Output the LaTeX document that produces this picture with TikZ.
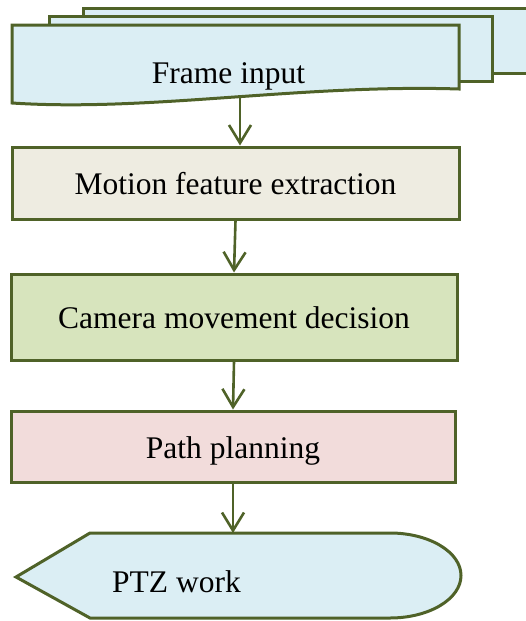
\documentclass[tikz,border=0pt]{standalone}
\usepackage{fontspec}
\setmainfont{Liberation Serif}
\usetikzlibrary{arrows.meta}
\definecolor{edgegreen}{HTML}{4F6228}
\definecolor{aqualight}{HTML}{DBEEF4}
\definecolor{tanlight}{HTML}{EEECE1}
\definecolor{olivelight}{HTML}{D7E4BD}
\definecolor{roselight}{HTML}{F2DCDB}
\begin{document}
\begin{tikzpicture}[x=1pt,y=-1pt,
  outline/.style={draw=edgegreen, line width=3pt, line join=miter},
  label/.style={font=\fontsize{31.5}{38}\selectfont, text height=23pt, text depth=0pt, inner sep=0pt},
  stepbox/.style={outline, label, rectangle},
  flow/.style={draw=edgegreen, line width=2.6pt, -{Straight Barb[length=18pt,width=22pt]}}]
\useasboundingbox (0,0) rectangle (526,621);
\clip (0,0) rectangle (526,621);

% stacked frames (multi-document symbol)
\filldraw[outline, fill=aqualight] (83,8) rectangle (560,73);
\filldraw[outline, fill=aqualight] (49,16) rectangle (492,81);
\filldraw[outline, fill=aqualight] (12,25) -- (459,25) -- (459,89)
  .. controls (300,84) and (150,112) .. (12,103) -- cycle;
\node[label] (frame) at (228.5,71.5) {Frame input};
\coordinate (framebottom) at (240,97.5);

% processing steps
\node[stepbox, fill=tanlight, minimum width=447pt, minimum height=72pt]
  (motion) at (235.5,183) {Motion feature extraction};
\node[stepbox, fill=olivelight, minimum width=446pt, minimum height=86pt]
  (camera) at (234,317) {Camera movement decision};
\node[stepbox, fill=roselight, minimum width=444pt, minimum height=71pt]
  (pathplan) at (233,446.5) {Path planning};

% display symbol for the PTZ output
\filldraw[outline, fill=aqualight] (16,577) -- (90,533) -- (390,533)
  arc[start angle=-90, end angle=90, x radius=71, y radius=42.5]
  -- (90,618) -- cycle;
\coordinate (ptztop) at (232,533);
\node[label, anchor=base west] (ptz) at (112,592) {PTZ work};

% connectors
\draw[flow] (framebottom) -- (framebottom |- motion.north);
\draw[flow] (motion.south) -- (camera.north);
\draw[flow] (camera.south) -- (pathplan.north);
\draw[flow] (pathplan.south) -- (pathplan.south |- ptztop);
\end{tikzpicture}
\end{document}
